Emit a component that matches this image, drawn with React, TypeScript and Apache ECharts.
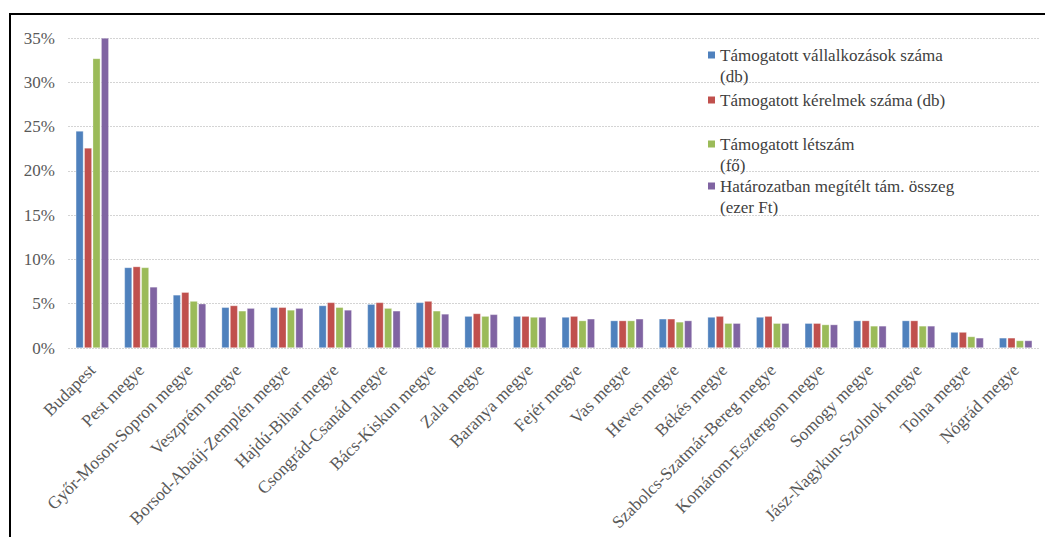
import React, { useEffect, useRef } from "react";
import * as echarts from "echarts";

const categories = [
  "Budapest",
  "Pest megye",
  "Győr-Moson-Sopron megye",
  "Veszprém megye",
  "Borsod-Abaúj-Zemplén megye",
  "Hajdú-Bihar megye",
  "Csongrád-Csanád megye",
  "Bács-Kiskun megye",
  "Zala megye",
  "Baranya megye",
  "Fejér megye",
  "Vas megye",
  "Heves megye",
  "Békés megye",
  "Szabolcs-Szatmár-Bereg megye",
  "Komárom-Esztergom megye",
  "Somogy megye",
  "Jász-Nagykun-Szolnok megye",
  "Tolna megye",
  "Nógrád megye",
];

const seriesNames = [
  "Támogatott vállalkozások száma\n(db)",
  "Támogatott kérelmek száma (db)",
  "Támogatott létszám\n(fő)",
  "Határozatban megítélt tám. összeg\n(ezer Ft)",
];

const vallalkozasok = [24.5, 9.1, 6.0, 4.6, 4.6, 4.8, 4.95, 5.15, 3.6, 3.6, 3.5, 3.1, 3.3, 3.5, 3.5, 2.8, 3.1, 3.1, 1.8, 1.15];
const kerelmek = [22.6, 9.2, 6.3, 4.8, 4.6, 5.15, 5.15, 5.3, 3.9, 3.6, 3.6, 3.1, 3.3, 3.6, 3.6, 2.8, 3.1, 3.1, 1.8, 1.15];
const letszam = [32.7, 9.1, 5.3, 4.2, 4.3, 4.6, 4.5, 4.2, 3.6, 3.5, 3.1, 3.1, 2.95, 2.8, 2.8, 2.65, 2.5, 2.5, 1.3, 0.85];
const osszeg = [35.0, 6.9, 5.0, 4.5, 4.5, 4.3, 4.2, 3.85, 3.8, 3.5, 3.3, 3.3, 3.1, 2.8, 2.8, 2.65, 2.5, 2.5, 1.15, 0.85];

const yTicks = { min: 0, max: 35, interval: 5 };

const colors = ["#4F81BD", "#C0504D", "#9BBB59", "#8064A2"];

export default function App() {
  const ref = useRef<HTMLDivElement>(null);

  useEffect(() => {
    document.body.style.margin = "0";
    if (!ref.current) return;
    const chart = echarts.init(ref.current, null, { renderer: "svg" });
    const font = "Liberation Serif";
    const values = [vallalkozasok, kerelmek, letszam, osszeg];
    const twoLine = [true, false, true, true];
    const iconCenters = [55, 100, 144, 186];
    const topIcon = "path://M0,0L7,0L7,7L0,7Z M0,28L0.01,28L0.01,28.01Z";

    const legends = seriesNames.map((name, i) => ({
      data: [name],
      left: 708,
      top: iconCenters[i] - 10.5,
      orient: "vertical",
      padding: 0,
      itemWidth: 7,
      itemHeight: twoLine[i] ? 28 : 7,
      selectedMode: false,
      icon: twoLine[i] ? topIcon : "rect",
      itemStyle: { borderWidth: 0 },
      textStyle: {
        fontFamily: font,
        fontSize: 17,
        color: "#404040",
        lineHeight: 21,
      },
    }));

    chart.setOption({
      animation: false,
      color: colors,
      textStyle: { fontFamily: font },
      grid: { left: 68, right: 5, top: 38, bottom: 189, containLabel: false },
      legend: legends,
      graphic: [
        {
          type: "rect",
          shape: { x: 10, y: 14, width: 1200, height: 700 },
          style: { fill: "none", stroke: "#000", lineWidth: 2 },
          silent: true,
          z: 100,
        },
      ],
      xAxis: {
        type: "category",
        data: categories,
        axisLine: { show: false },
        axisTick: { show: false },
        axisLabel: {
          rotate: 45,
          interval: 0,
          margin: 19,
          fontFamily: font,
          fontSize: 17.5,
          color: "#595959",
        },
      },
      yAxis: {
        type: "value",
        min: yTicks.min,
        max: yTicks.max,
        interval: yTicks.interval,
        axisLine: { show: false },
        axisTick: { show: false },
        axisLabel: {
          formatter: "{value}%",
          fontFamily: font,
          fontSize: 17,
          color: "#595959",
          margin: 13,
        },
        splitLine: {
          lineStyle: { color: "#d4d4d4", type: [2, 1], width: 1 },
        },
      },
      series: seriesNames.map((name, i) => ({
        name,
        type: "bar",
        data: values[i],
        barCategoryGap: "32%",
        barGap: "10%",
        itemStyle: {
          color: colors[i],
          borderColor: "rgba(255,255,255,0.5)",
          borderWidth: 0.6,
        },
      })),
    });

    return () => chart.dispose();
  }, []);

  return <div ref={ref} style={{ width: 1045, height: 537 }} />;
}
